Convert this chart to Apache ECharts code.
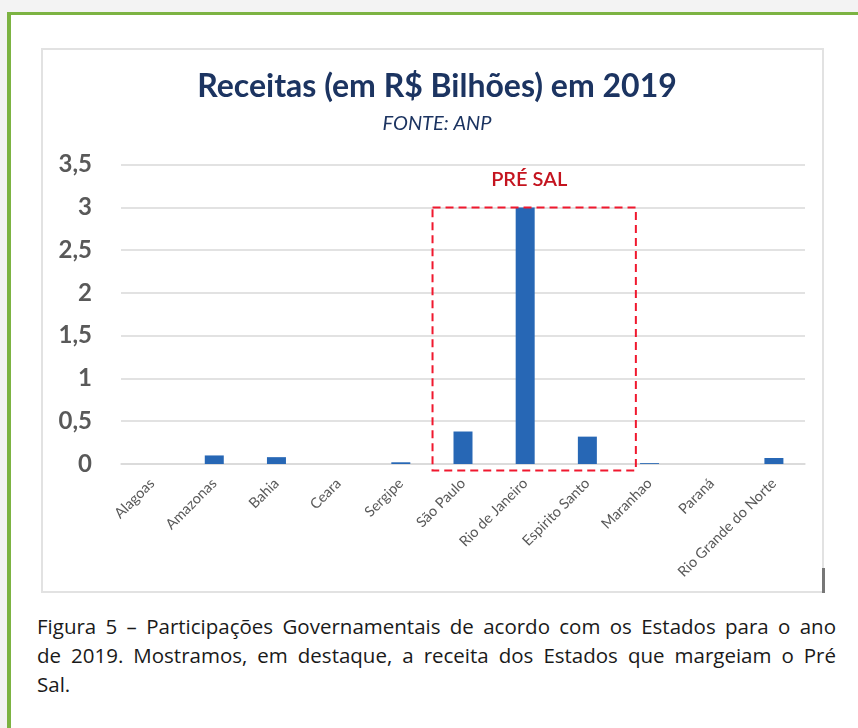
<!DOCTYPE html>
<html>
<head>
<meta charset="utf-8">
<script src="https://cdn.jsdelivr.net/npm/echarts@6/dist/echarts.min.js"></script>
<style>
  html, body { margin:0; padding:0; }
  body { width:858px; height:728px; background:#f3f3f3; position:relative; overflow:hidden; }
  #frame { position:absolute; left:7px; top:12px; width:851px; height:716px; background:#ffffff;
           border-top:3.5px solid #7cb342; border-left:4px solid #7cb342; box-sizing:border-box; }
  #box { position:absolute; left:41px; top:48px; width:783px; height:545px; border:2px solid #e2e2e2; box-sizing:border-box; background:#fff; }
  #mark { position:absolute; left:822px; top:568px; width:3px; height:25px; background:#777; }
  #caption { position:absolute; left:37px; top:612px; width:799px; font-family:"Open Sans", sans-serif;
             font-size:20.5px; line-height:29px; color:#1a1a1a; }
  #caption .j { white-space:nowrap; text-align:justify; text-align-last:justify; }
  #chart { position:absolute; left:0; top:0; width:858px; height:728px; }
</style>
</head>
<body>
<div id="frame"></div>
<div id="box"></div>
<div id="mark"></div>
<div id="caption"><div class="j">Figura 5 – Participações Governamentais de acordo com os Estados para o ano</div><div class="j">de 2019. Mostramos, em destaque, a receita dos Estados que margeiam o Pré</div><div>Sal.</div></div>
<div id="chart"></div>
<script>
const categories = ['Alagoas', 'Amazonas', 'Bahia', 'Ceara', 'Sergipe', 'São Paulo', 'Rio de Janeiro', 'Espirito Santo', 'Maranhao', 'Paraná', 'Rio Grande do Norte'];
const receitas = [0, 0.10, 0.08, 0, 0.02, 0.38, 3.0, 0.32, 0.01, 0, 0.07];
const titleText = 'Receitas (em R$ Bilhões) em 2019';
const sourceText = 'FONTE: ANP';
const highlightText = 'PRÉ SAL';
const highlightFrom = 'São Paulo';
const highlightTo = 'Espirito Santo';

const chart = echarts.init(document.getElementById('chart'), null, { renderer: 'canvas' });
chart.setOption({
  animation: false,
  backgroundColor: 'transparent',
  title: [
    { text: titleText, left: 432, top: 66, textAlign: 'center',
      textStyle: { fontFamily: 'Lato', fontWeight: 'bold', fontSize: 32, color: '#1c3461' } },
    { text: sourceText, left: 432, top: 109, textAlign: 'center',
      textStyle: { fontFamily: 'Lato', fontStyle: 'italic', fontWeight: 'normal', fontSize: 20, color: '#1c3461' } }
  ],
  grid: { left: 121, right: 53, top: 164.7, bottom: 264 },
  xAxis: {
    type: 'category', data: categories,
    axisLine: { show: true, lineStyle: { color: '#d9d9d9', width: 1.5 } },
    axisTick: { show: false },
    axisLabel: { interval: 0, rotate: 45, margin: 17, color: '#595959', fontFamily: 'Lato', fontSize: 14.5 }
  },
  yAxis: {
    type: 'value', min: 0, max: 3.5, interval: 0.5,
    axisLine: { show: false }, axisTick: { show: false },
    splitLine: { lineStyle: { color: '#d9d9d9', width: 1.5 } },
    axisLabel: { margin: 29, color: '#595959', fontFamily: 'Lato', fontWeight: 'bold', fontSize: 24,
      formatter: v => String(v).replace('.', ',') }
  },
  series: [{
    type: 'bar', data: receitas, barWidth: 19,
    itemStyle: { color: '#2767b5' }
  }]
});

const px0 = chart.convertToPixel({ xAxisIndex: 0 }, categories[0]);
const px1 = chart.convertToPixel({ xAxisIndex: 0 }, categories[1]);
const band = px1 - px0;
const xL = chart.convertToPixel({ xAxisIndex: 0 }, highlightFrom) - 0.49 * band;
const xR = chart.convertToPixel({ xAxisIndex: 0 }, highlightTo) + 0.78 * band;
const yT = chart.convertToPixel({ yAxisIndex: 0 }, 3);
const yB = chart.convertToPixel({ yAxisIndex: 0 }, 0) + 6.5;

chart.setOption({
  graphic: [
    { type: 'rect', shape: { x: xL, y: yT, width: xR - xL, height: yB - yT },
      style: { fill: 'none', stroke: '#f0182e', lineWidth: 2, lineDash: [8, 5] }, z: 10 },
    { type: 'text', x: (xL + xR) / 2 - 5, y: yT - 28,
      style: { text: highlightText, fill: '#c4141f', font: '600 20px Lato', align: 'center', verticalAlign: 'middle' }, z: 10 }
  ]
});
</script>
</body>
</html>
